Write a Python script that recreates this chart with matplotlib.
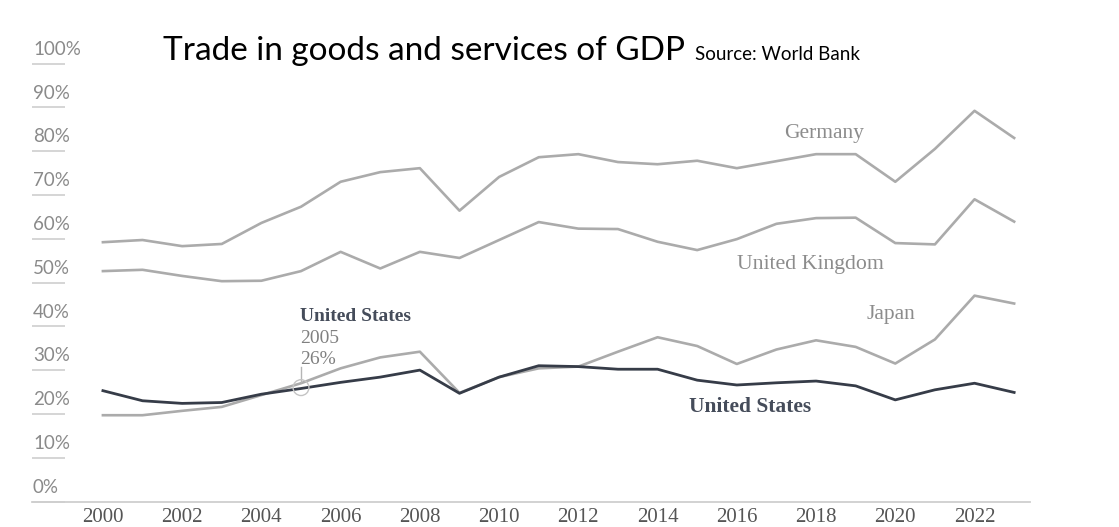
import matplotlib
matplotlib.use("Agg")
import matplotlib.pyplot as plt

# Trade in goods and services (% of GDP)
years = list(range(2000, 2024))
germany = [59.2, 59.7, 58.3, 58.8, 63.6, 67.3, 73.0, 75.2, 76.1, 66.4, 74.1, 78.6,
           79.3, 77.5, 77.0, 77.8, 76.1, 77.7, 79.3, 79.3, 73.0, 80.5, 89.2, 83.0]
uk = [52.6, 52.9, 51.5, 50.3, 50.4, 52.6, 57.0, 53.2, 57.0, 55.6, 59.7, 63.8,
      62.3, 62.2, 59.3, 57.4, 59.9, 63.4, 64.7, 64.8, 59.0, 58.7, 69.0, 63.9]
japan = [19.7, 19.7, 20.7, 21.6, 24.3, 27.0, 30.4, 32.9, 34.2, 24.8, 28.4, 30.4,
         30.8, 34.2, 37.5, 35.5, 31.4, 34.7, 36.8, 35.3, 31.5, 37.0, 47.0, 45.2]
us = [25.3, 23.0, 22.4, 22.6, 24.5, 25.8, 27.2, 28.4, 30.0, 24.7, 28.4, 31.0,
      30.8, 30.2, 30.2, 27.7, 26.6, 27.1, 27.5, 26.4, 23.2, 25.5, 27.0, 24.9]

y_ticks = [0, 10, 20, 30, 40, 50, 60, 70, 80, 90, 100]
x_ticks = list(range(2000, 2024, 2))

highlight_year = 2005
highlight_value = 26

GREY = "#ababab"
DARK = "#363c48"
SERIF = "Liberation Serif"

fig = plt.figure(figsize=(11.19, 5.27), dpi=100)
ax = fig.add_axes([32 / 1119, 25.5 / 527, 998 / 1119, 438 / 527])
ax.set_xlim(1998.21, 2023.4)
ax.set_ylim(0, 100)

for s in ["top", "right", "left"]:
    ax.spines[s].set_visible(False)
ax.spines["bottom"].set_color("#cfcfcf")
ax.spines["bottom"].set_linewidth(1.3)
ax.set_yticks([])

ax.set_xticks(x_ticks)
ax.set_xticklabels([str(y) for y in x_ticks], fontfamily=SERIF, fontsize=15,
                   color="#555555")
ax.tick_params(axis="x", length=0, pad=5)

# y labels sit on short underlines instead of gridlines
ytr = ax.get_yaxis_transform()
for v in y_ticks:
    ax.plot([0, 0.033], [v, v], color="#d2d2d2", lw=1.3, transform=ytr,
            clip_on=False, solid_capstyle="butt")
    ax.text(0.001, v + 1.3, f"{v}%", transform=ytr, ha="left", va="bottom",
            fontfamily="Lato", fontsize=13.5, color="#8a8a8a")

ax.plot(years, germany, color=GREY, lw=1.9, clip_on=False)
ax.plot(years, uk, color=GREY, lw=1.9, clip_on=False)
ax.plot(years, japan, color=GREY, lw=1.9, clip_on=False)
ax.plot(years, us, color=DARK, lw=2.0, clip_on=False)

# series labels
ax.text(2017.2, 84.1, "Germany", fontfamily=SERIF, fontsize=15.5, color="#8c8c8c",
        va="center")
ax.text(2016.0, 54.0, "United Kingdom", fontfamily=SERIF, fontsize=15.7,
        color="#8c8c8c", va="center")
ax.text(2019.27, 42.6, "Japan", fontfamily=SERIF, fontsize=15.5, color="#8c8c8c",
        va="center")
ax.text(2014.8, 21.6, "United States", fontfamily=SERIF, fontsize=15.5,
        fontweight="bold", color="#454c5a", va="center")

# 2005 highlight
ax.scatter([highlight_year], [highlight_value], s=130, facecolors="none",
           edgecolors="#c4c4c4", linewidths=1.0, zorder=5)
ax.plot([highlight_year, highlight_year], [27.3, 30.7], color="#b5b5b5", lw=1.0)
ax.text(2004.97, 42.2, "United States", fontfamily=SERIF, fontsize=14,
        fontweight="bold", color="#454c5a", va="center")
ax.text(2004.97, 37.3, str(highlight_year), fontfamily=SERIF, fontsize=14,
        color="#808080", va="center")
ax.text(2004.97, 32.5, f"{highlight_value}%", fontfamily=SERIF, fontsize=14,
        color="#808080", va="center")

# title + source
title = fig.text(163 / 1119, 1 - 60 / 527, "Trade in goods and services of GDP",
                 fontfamily="Lato", fontsize=24, color="black", va="baseline")
fig.canvas.draw()
bb = title.get_window_extent()
fig.text((bb.x1 + 10) / 1119, 1 - 60 / 527, "Source: World Bank",
         fontfamily="Lato", fontsize=13.5, color="black", va="baseline")

fig.savefig("out.png", dpi=100)
